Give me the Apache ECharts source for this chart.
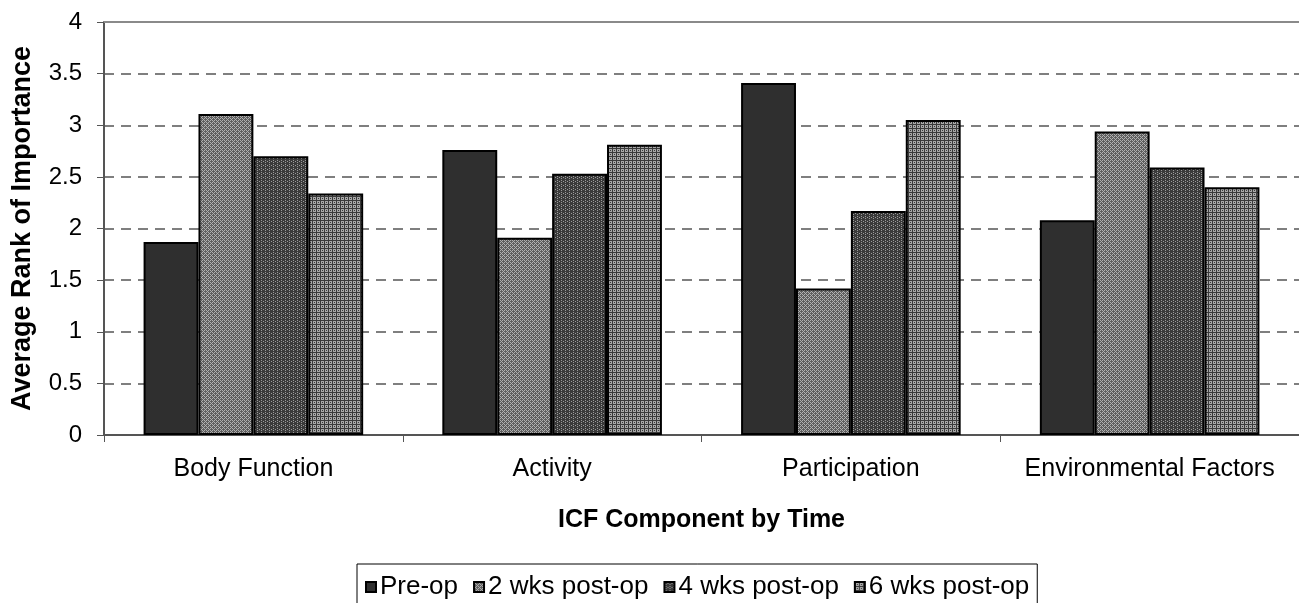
<!DOCTYPE html>
<html><head><meta charset="utf-8">
<script src="https://cdn.jsdelivr.net/npm/echarts@6/dist/echarts.min.js"></script>
<style>html,body{margin:0;padding:0;background:#fff}#c{width:1299px;height:603px}</style>
</head><body><div id="c"></div>
<script>
const categories = ['Body Function', 'Activity', 'Participation', 'Environmental Factors'];
const seriesNames = ['Pre-op', '2 wks post-op', '4 wks post-op', '6 wks post-op'];
const preOp = [1.87, 2.76, 3.41, 2.08];
const wk2 = [3.11, 1.91, 1.42, 2.94];
const wk4 = [2.70, 2.53, 2.17, 2.59];
const wk6 = [2.34, 2.81, 3.05, 2.40];
const yTicks = [0, 0.5, 1, 1.5, 2, 2.5, 3, 3.5, 4];

function pat(bg, fg, fn) {
  const c = document.createElement('canvas'); c.width = 4; c.height = 4;
  const g = c.getContext('2d'); g.fillStyle = bg; g.fillRect(0,0,4,4); g.fillStyle = fg; fn(g);
  return {image: c, repeat: 'repeat'};
}
const fills = [
  '#2f2f2f',
  pat('#5e5e5e', '#b0b0b0', g => { g.fillRect(0,0,1,1); g.fillRect(2,0,1,1); g.fillRect(0,2,1,1); g.fillRect(2,2,1,1); g.fillRect(1,1,1,1); g.fillRect(3,3,1,1);}),
  pat('#3a3a3a', '#9a9a9a', g => { g.fillRect(1,0,1,1); g.fillRect(1,2,1,1); g.fillRect(3,1,1,1); }),
  pat('#a8a8a8', '#3a3a3a', g => { g.fillRect(0,0,4,1); g.fillRect(0,0,1,4); g.fillRect(2,2,1,1); })
];
const data = [preOp, wk2, wk4, wk6];
const font = 'Liberation Sans, Arial, sans-serif';
const chart = echarts.init(document.getElementById('c'));
chart.setOption({
  animation: false,
  grid: {left: 104, right: 0, top: 22, bottom: 168},
  legend: {
    top: 564, left: 357,
    data: seriesNames,
    icon: 'rect', itemWidth: 10, itemHeight: 10, itemGap: 15,
    borderColor: '#000', borderWidth: 1, padding: [10, 8, 40, 8],
    textStyle: {fontFamily: font, fontSize: 26, color: '#000', padding: [0,0,0,-1]}
  },
  xAxis: [{
    type: 'category', data: categories,
    name: 'ICF Component by Time', nameLocation: 'middle', nameGap: 73,
    nameTextStyle: {fontFamily: font, fontSize: 25, fontWeight: 'bold', color: '#000'},
    axisLine: {lineStyle: {color: '#555', width: 2}},
    axisTick: {show: true, length: 7, lineStyle: {color: '#555'}},
    axisLabel: {fontFamily: font, fontSize: 25, color: '#000', margin: 22, interval: 0}
  }, {
    type: 'category', data: categories, position: 'top',
    axisLine: {show: true, lineStyle: {color: '#8a8a8a', width: 2}},
    axisTick: {show: false}, axisLabel: {show: false}
  }],
  yAxis: {
    type: 'value', min: 0, max: 4, interval: 0.5,
    name: 'Average Rank of Importance', nameLocation: 'middle', nameGap: 68,
    nameTextStyle: {fontFamily: font, fontSize: 27, fontWeight: 'bold', color: '#000'},
    axisLine: {show: true, lineStyle: {color: '#555', width: 2}},
    axisTick: {show: true, length: 7, lineStyle: {color: '#555'}},
    axisLabel: {fontFamily: font, fontSize: 24, color: '#000', margin: 22,
      formatter: v => yTicks.includes(v) ? String(v) : ''},
    splitLine: {lineStyle: {color: '#555', type: [10, 7], width: 1.5}}
  },
  series: data.map((d, i) => ({
    name: seriesNames[i], type: 'bar', data: d,
    barGap: '0%', barCategoryGap: '26.5%',
    itemStyle: {color: fills[i], borderColor: '#000', borderWidth: 2}
  }))
});
</script></body></html>
